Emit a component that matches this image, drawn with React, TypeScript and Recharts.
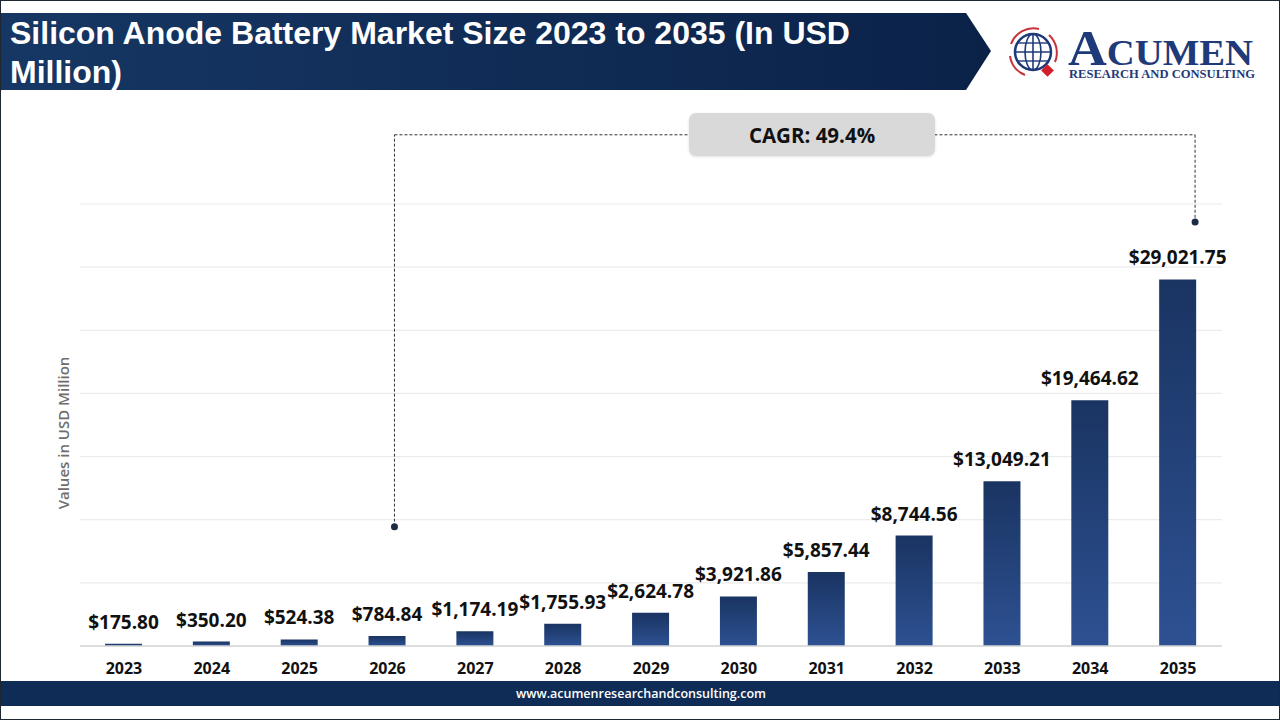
import React from "react";
import {
  BarChart,
  Bar,
  XAxis,
  YAxis,
  CartesianGrid,
  LabelList,
  ReferenceLine,
  ReferenceDot,
} from "recharts";

// data
const years = ["2023", "2024", "2025", "2026", "2027", "2028", "2029", "2030", "2031", "2032", "2033", "2034", "2035"];
const marketSize = [175.8, 350.2, 524.38, 784.84, 1174.19, 1755.93, 2624.78, 3921.86, 5857.44, 8744.56, 13049.21, 19464.62, 29021.75];
const yTicks = [0, 5000, 10000, 15000, 20000, 25000, 30000, 35000];

// CAGR bracket (value-space anchors)
const cagrFrom = "2026";
const cagrTo = "2035";
const cagrLowY = 9450;
const cagrHighY = 33570;
const cagrTopY = 40480;

const data = years.map((year, i) => ({ year, value: marketSize[i] }));

const NAVY = "#0f2c57";
const FONT = "'Open Sans', 'DejaVu Sans', sans-serif";
const SERIF = "'Liberation Serif', 'DejaVu Serif', serif";

const fmt = (v: number) =>
  "$" + v.toLocaleString("en-US", { minimumFractionDigits: 2, maximumFractionDigits: 2 });

const shiftLine = (dx1: number, dx2: number) => (p: any) => (
  <line
    x1={p.x1 + dx1}
    y1={p.y1}
    x2={p.x2 + dx2}
    y2={p.y2}
    stroke="#333"
    strokeWidth={1}
    strokeDasharray="3 2"
  />
);

const shiftDot = (dx: number) => (p: any) => <circle cx={p.cx + dx} cy={p.cy} r={3.5} fill="#1c2b44" />;

function Logo() {
  return (
    <svg width={280} height={80} style={{ position: "absolute", left: 996, top: 12 }}>
      <g transform="translate(36,39)">
        <path d="M -22 -8 A 24 24 0 0 1 6 -23" fill="none" stroke="#c8323a" strokeWidth={2} />
        <path d="M 16 -17 A 24 24 0 0 1 22 10" fill="none" stroke="#c8323a" strokeWidth={2} />
        <path d="M -8 23 A 24 24 0 0 1 -23 4" fill="none" stroke="#c8323a" strokeWidth={2} />
        <circle r={18} fill="#fff" stroke="#1f3a78" strokeWidth={2.5} />
        <ellipse rx={8} ry={18} fill="none" stroke="#1f3a78" strokeWidth={1.6} />
        <line x1={0} y1={-18} x2={0} y2={18} stroke="#1f3a78" strokeWidth={1.6} />
        <line x1={-18} y1={0} x2={18} y2={0} stroke="#1f3a78" strokeWidth={1.6} />
        <line x1={-15} y1={-9} x2={15} y2={-9} stroke="#1f3a78" strokeWidth={1.4} />
        <line x1={-15} y1={9} x2={15} y2={9} stroke="#1f3a78" strokeWidth={1.4} />
        <rect x={10} y={14} width={9} height={9} fill="#d21f2b" transform="rotate(45 14.5 18.5)" />
      </g>
      <text
        x={71}
        y={52}
        fontFamily={SERIF}
        fontWeight={700}
        fill="#1f3a78"
        textLength={185}
        lengthAdjust="spacingAndGlyphs"
      >
        <tspan fontSize={50}>A</tspan>
        <tspan fontSize={36}>CUMEN</tspan>
      </text>
      <text
        x={72}
        y={65}
        fontFamily={SERIF}
        fontWeight={700}
        fontSize={11.5}
        fill="#1f3a78"
        textLength={186}
        lengthAdjust="spacingAndGlyphs"
      >
        RESEARCH AND CONSULTING
      </text>
    </svg>
  );
}

export default function App() {
  return (
    <div
      style={{
        position: "absolute",
        left: 0,
        top: 0,
        width: 1280,
        height: 720,
        background: "#fff",
        boxSizing: "border-box",
        border: "1.5px solid #1e2630",
        overflow: "hidden",
        fontFamily: FONT,
      }}
    >
      <svg width={1000} height={100} style={{ position: "absolute", left: -2, top: -2 }}>
        <defs>
          <linearGradient id="bannerGrad" x1="0" y1="0" x2="1" y2="0">
            <stop offset="0%" stopColor="#163764" />
            <stop offset="100%" stopColor="#0b2248" />
          </linearGradient>
        </defs>
        <polygon points="0,14 967,14 992,52 967,91 0,91" fill="url(#bannerGrad)" />
      </svg>
      <div
        style={{
          position: "absolute",
          left: 9,
          top: 13,
          width: 900,
          color: "#fff",
          fontFamily: "'Liberation Sans', Arial, sans-serif",
          fontWeight: 700,
          fontSize: 32,
          lineHeight: "39px",
        }}
      >
        Silicon Anode Battery Market Size 2023 to 2035 (In USD Million)
      </div>

      <Logo />

      <div
        style={{
          position: "absolute",
          left: 62,
          top: 432,
          transform: "translate(-50%, -50%) rotate(-90deg)",
          whiteSpace: "nowrap",
          color: "#6e6e6e",
          fontSize: 15,
          fontWeight: 600,
        }}
      >
        Values in USD Million
      </div>

      <div style={{ position: "absolute", left: -2, top: -2 }}>
        <BarChart
          width={1280}
          height={720}
          data={data}
          margin={{ top: 205, right: 57, bottom: 43, left: 81 }}
          barSize={37}
        >
          <defs>
            <linearGradient id="barGrad" x1="0" y1="0" x2="0" y2="1">
              <stop offset="0%" stopColor="#1a3462" />
              <stop offset="100%" stopColor="#2d5192" />
            </linearGradient>
          </defs>
          <CartesianGrid vertical={false} stroke="#ececec" strokeWidth={1.2} />
          <XAxis
            dataKey="year"
            height={30}
            tickLine={false}
            axisLine={{ stroke: "#d4d4d4", strokeWidth: 1.5 }}
            tickMargin={11}
            tick={{ fontSize: 16, fontWeight: 700, fill: "#111", fontFamily: FONT }}
            interval={0}
          />
          <YAxis hide domain={[0, 35000]} ticks={yTicks} />
          <ReferenceLine
            segment={[{ x: cagrFrom, y: cagrLowY }, { x: cagrFrom, y: cagrTopY }]}
            ifOverflow="visible"
            shape={shiftLine(7, 7)}
          />
          <ReferenceLine
            segment={[{ x: cagrFrom, y: cagrTopY }, { x: cagrTo, y: cagrTopY }]}
            ifOverflow="visible"
            shape={shiftLine(7, 17)}
          />
          <ReferenceLine
            segment={[{ x: cagrTo, y: cagrTopY }, { x: cagrTo, y: cagrHighY }]}
            ifOverflow="visible"
            shape={shiftLine(17, 17)}
          />
          <ReferenceDot x={cagrFrom} y={cagrLowY} ifOverflow="visible" shape={shiftDot(7)} />
          <ReferenceDot x={cagrTo} y={cagrHighY} ifOverflow="visible" shape={shiftDot(17)} />
          <Bar dataKey="value" fill="url(#barGrad)" isAnimationActive={false}>
            <LabelList
              dataKey="value"
              position="top"
              offset={15}
              formatter={(v: any) => fmt(Number(v))}
              style={{ fontSize: 19, fontWeight: 700, fill: "#111", fontFamily: FONT }}
            />
          </Bar>
        </BarChart>
      </div>

      <div
        style={{
          position: "absolute",
          left: 688,
          top: 112,
          width: 246,
          height: 43,
          borderRadius: 7,
          background: "#d9d9d9",
          boxShadow: "0 1px 3px rgba(0,0,0,0.12)",
          display: "flex",
          alignItems: "center",
          justifyContent: "center",
          fontSize: 20.5,
          fontWeight: 700,
          color: "#111",
        }}
      >
        CAGR: 49.4%
      </div>

      <div
        style={{
          position: "absolute",
          left: -2,
          top: 680,
          width: 1284,
          height: 25,
          background: NAVY,
          color: "#fff",
          fontSize: 12.5,
          fontWeight: 600,
          textAlign: "center",
          lineHeight: "25px",
        }}
      >
        www.acumenresearchandconsulting.com
      </div>
    </div>
  );
}
